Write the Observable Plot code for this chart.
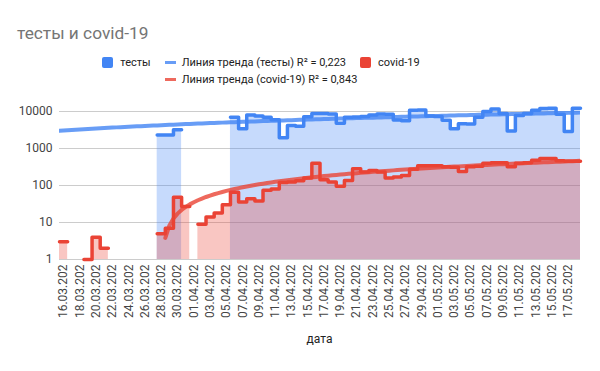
<!DOCTYPE html>
<html>
<head>
<meta charset="utf-8">
<script src="https://cdn.jsdelivr.net/npm/d3@7"></script>
<script src="https://cdn.jsdelivr.net/npm/@observablehq/plot@0.6"></script>
<style>
  html, body { margin: 0; padding: 0; background: #fff; }
  #wrap { position: relative; width: 600px; height: 371px; overflow: hidden; font-family: Roboto, "Liberation Sans", Arial, sans-serif; }
  #chart { position: absolute; left: 0; top: 0; }
  #title { position: absolute; left: 17px; top: 23.5px; font-size: 17.3px; line-height: 18px; color: #757575; white-space: nowrap; }
  .lrow { position: absolute; left: 0; width: 522px; height: 14px; display: flex; justify-content: center; align-items: center; font-size: 11px; color: #222; white-space: nowrap; }
  .item { display: flex; align-items: center; margin: 0 7px; }
  .sq { width: 11px; height: 11px; border-radius: 2px; margin-right: 7px; }
  .ln { width: 11px; height: 3px; margin-right: 6px; }
  #xlabel { position: absolute; left: 219.5px; width: 200px; top: 333px; text-align: center; font-size: 12px; line-height: 12px; color: #222; }
</style>
</head>
<body>
<div id="wrap">
  <div id="chart"></div>
  <div id="title"></div>
  <div class="lrow" id="row1" style="top:55px"></div>
  <div class="lrow" id="row2" style="top:72px"></div>
  <div id="xlabel"></div>
</div>
<script>
const chartTitle = "тесты и covid-19";
const xTitle = "дата";
const dates = [
  "16.03.2020","17.03.2020","18.03.2020","19.03.2020","20.03.2020","21.03.2020","22.03.2020","23.03.2020",
  "24.03.2020","25.03.2020","26.03.2020","27.03.2020","28.03.2020","29.03.2020","30.03.2020","31.03.2020",
  "01.04.2020","02.04.2020","03.04.2020","04.04.2020","05.04.2020","06.04.2020","07.04.2020","08.04.2020",
  "09.04.2020","10.04.2020","11.04.2020","12.04.2020","13.04.2020","14.04.2020","15.04.2020","16.04.2020",
  "17.04.2020","18.04.2020","19.04.2020","20.04.2020","21.04.2020","22.04.2020","23.04.2020","24.04.2020",
  "25.04.2020","26.04.2020","27.04.2020","28.04.2020","29.04.2020","30.04.2020","01.05.2020","02.05.2020",
  "03.05.2020","04.05.2020","05.05.2020","06.05.2020","07.05.2020","08.05.2020","09.05.2020","10.05.2020",
  "11.05.2020","12.05.2020","13.05.2020","14.05.2020","15.05.2020","16.05.2020","17.05.2020","18.05.2020"
];
const tests = [
  null,null,null,null,null,null,null,null,null,null,null,null,
  2300,2300,3200,null,null,null,null,null,null,
  7000,3400,8000,7500,7000,6000,1950,4200,4000,7200,
  8800,8800,8600,4800,7000,7100,7300,8000,8600,8400,
  5900,5600,10800,11000,7600,7300,5800,3400,4700,4600,
  7000,10000,11600,8800,2950,7750,8800,10800,12000,12200,
  8400,2900,12300
];
const covid = [
  3,null,null,1,4,2,null,null,null,null,null,null,
  5,7,48,27,null,9,14,18,30,
  66,36,44,38,74,80,120,125,135,160,
  400,143,124,95,137,282,230,255,230,160,
  170,187,275,340,340,340,320,313,240,320,
  330,400,410,410,320,400,410,480,540,540,
  470,450,450
];
const seriesNames = ["тесты", "covid-19"];
const trendNames = ["Линия тренда (тесты) R² = 0,223", "Линия тренда (covid-19) R² = 0,843"];
const colors = ["#4285f4", "#ea4335"];
const yTicks = [1, 10, 100, 1000, 10000];

// step expansion: each day spans [i, i+1]
function steps(values) {
  const out = [];
  values.forEach((v, i) => {
    if (v == null) out.push({x: i + 0.5, y: NaN});
    else { out.push({x: i, y: v}); out.push({x: i + 1, y: v}); }
  });
  return out;
}
// linear trend (least squares on day centre), as in the spreadsheet
function trend(values) {
  const pts = values.map((v, i) => [i + 0.5, v]).filter(p => p[1] != null);
  const mx = d3.mean(pts, p => p[0]), my = d3.mean(pts, p => p[1]);
  const b = d3.sum(pts, p => (p[0] - mx) * (p[1] - my)) / d3.sum(pts, p => (p[0] - mx) ** 2);
  const a = my - b * mx;
  return d3.range(0, 64.001, 0.5).map(x => ({x, y: a + b * x})).filter(d => d.y >= 1);
}

const sT = steps(tests), sC = steps(covid);
const tT = trend(tests), tC = trend(covid);

const plot = Plot.plot({
  width: 600, height: 371,
  marginLeft: 59, marginRight: 20, marginTop: 111, marginBottom: 112,
  style: {fontFamily: "Roboto, 'Liberation Sans', Arial, sans-serif", fontSize: "12px", background: "transparent"},
  x: {type: "linear", domain: [0, 64]},
  y: {type: "log", domain: [1, 10000]},
  marks: [
    Plot.gridY(yTicks, {stroke: "#cccccc", strokeOpacity: 1}),
    Plot.axisY(yTicks, {tickFormat: d => String(d), tickSize: 0, tickPadding: 7, label: null, fill: "#444", fontSize: 12}),
    Plot.axisX(d3.range(0, 64, 2).map(i => i + 0.5), {
      tickFormat: t => dates[Math.floor(t)].slice(0, 9),
      tickRotate: -90, tickSize: 0, tickPadding: 5, label: null, fill: "#444", fontSize: 12
    }),
    Plot.areaY(sT, {x: "x", y1: d => 1, y2: "y", fill: colors[0], fillOpacity: 0.3}),
    Plot.line(sT, {x: "x", y: "y", stroke: colors[0], strokeWidth: 3.5}),
    Plot.areaY(sC, {x: "x", y1: d => 1, y2: "y", fill: colors[1], fillOpacity: 0.3}),
    Plot.line(sC, {x: "x", y: "y", stroke: colors[1], strokeWidth: 3.5}),
    Plot.line(tT, {x: "x", y: "y", stroke: colors[0], strokeOpacity: 0.8, strokeWidth: 4, clip: true}),
    Plot.line(tC, {x: "x", y: "y", stroke: colors[1], strokeOpacity: 0.8, strokeWidth: 4, clip: true})
  ]
});
document.getElementById("chart").appendChild(plot);
document.getElementById("title").textContent = chartTitle;
document.getElementById("xlabel").textContent = xTitle;

function item(kind, color, text, opacity) {
  const it = document.createElement("div"); it.className = "item";
  const sw = document.createElement("div"); sw.className = kind; sw.style.background = color;
  if (opacity) sw.style.opacity = opacity;
  const tx = document.createElement("span"); tx.textContent = text;
  it.appendChild(sw); it.appendChild(tx); return it;
}
const r1 = document.getElementById("row1"), r2 = document.getElementById("row2");
r1.appendChild(item("sq", colors[0], seriesNames[0]));
r1.appendChild(item("ln", colors[0], trendNames[0], 0.8));
r1.appendChild(item("sq", colors[1], seriesNames[1]));
r2.appendChild(item("ln", colors[1], trendNames[1], 0.8));
</script>
</body>
</html>
